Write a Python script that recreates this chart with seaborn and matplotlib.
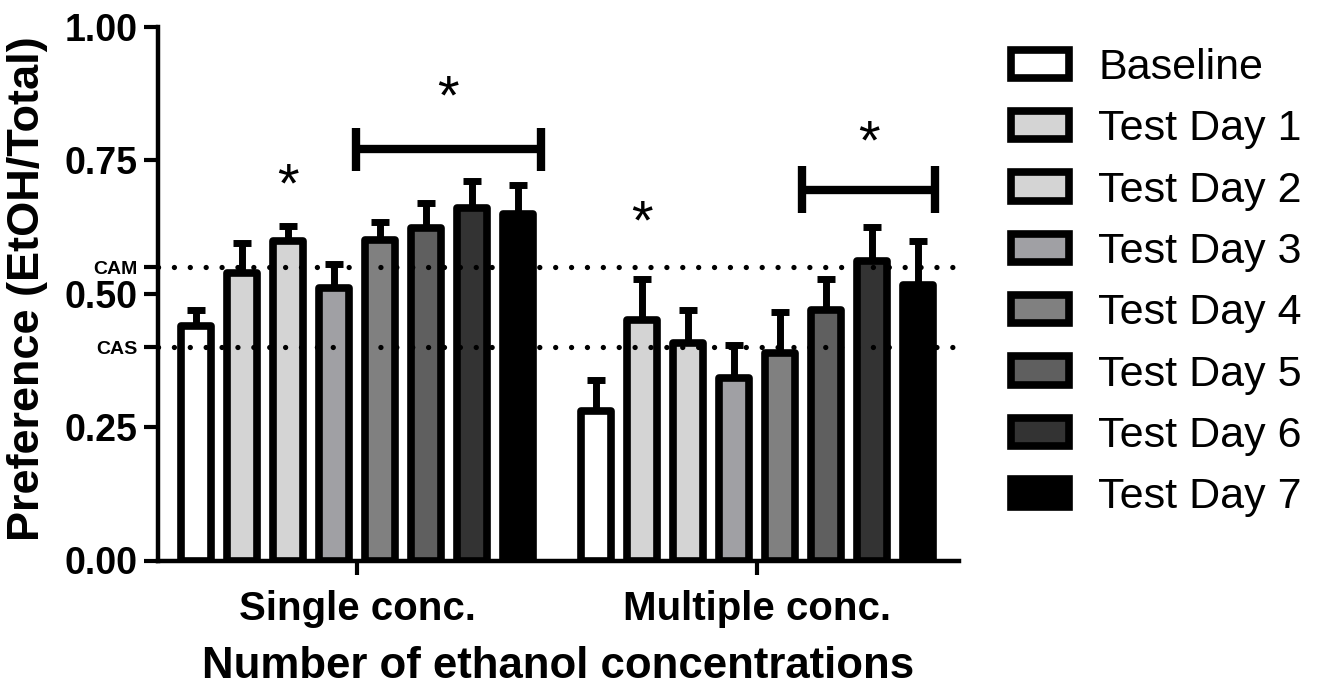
import matplotlib
matplotlib.use("Agg")
import matplotlib.pyplot as plt
import matplotlib.patches as mpatches
import numpy as np
import pandas as pd
import seaborn as sns

# ---- data -------------------------------------------------------------
groups = ["Single conc.", "Multiple conc."]
days = ["Baseline", "Test Day 1", "Test Day 2", "Test Day 3",
        "Test Day 4", "Test Day 5", "Test Day 6", "Test Day 7"]
single_mean = [0.44, 0.539, 0.599, 0.511, 0.601, 0.623, 0.661, 0.649]
single_sem = [0.030, 0.057, 0.028, 0.044, 0.034, 0.048, 0.051, 0.055]
multi_mean = [0.280, 0.451, 0.408, 0.342, 0.389, 0.469, 0.561, 0.517]
multi_sem = [0.058, 0.077, 0.061, 0.062, 0.076, 0.059, 0.064, 0.081]
colors = ["#ffffff", "#d4d4d4", "#d4d4d4", "#a0a0a4",
          "#808080", "#5f5f5f", "#333333", "#000000"]
cam_level = 0.55
cas_level = 0.40
y_ticks = [0.0, 0.25, 0.40, 0.50, 0.55, 0.75, 1.0]
y_ticklabels = ["0.00", "0.25", "CAS", "0.50", "CAM", "0.75", "1.00"]

df = pd.DataFrame({
    "group": np.repeat(groups, len(days)),
    "day": days * len(groups),
    "mean": single_mean + multi_mean,
    "err": single_sem + multi_sem,
})

sns.set_style("ticks")
plt.rcParams["font.family"] = ["Liberation Sans", "DejaVu Sans"]
plt.rcParams.update({"text.color": "black", "axes.labelcolor": "black",
                     "xtick.color": "black", "ytick.color": "black"})

fig = plt.figure(figsize=(13.24, 6.85), dpi=100)
ax = fig.add_axes([158 / 1324, 1 - 560.5 / 685, (959 - 158) / 1324, (560.5 - 27) / 685])

sns.barplot(data=df, x="group", y="mean", hue="day", order=groups,
            hue_order=days, palette=colors, width=0.922, gap=0.35,
            edgecolor="black", linewidth=5.5, errorbar=None, ax=ax,
            legend=False, zorder=3)

for p in ax.patches:
    p.set_joinstyle("round")

# upward SEM bars, centred on each bar
bar_containers = list(ax.containers)
centers = {}
for hue_idx, cont in enumerate(bar_containers):
    for grp_idx, bar in enumerate(cont.patches):
        cx = bar.get_x() + bar.get_width() / 2
        centers[(grp_idx, hue_idx)] = cx
        row = df[(df["group"] == groups[grp_idx]) & (df["day"] == days[hue_idx])].iloc[0]
        ax.errorbar(cx, row["mean"], yerr=[[0], [row["err"]]], fmt="none",
                    ecolor="black", elinewidth=5, capsize=6.8, capthick=5,
                    zorder=2)

# reference levels
for lvl in (cam_level, cas_level):
    ax.axhline(lvl, color="black", lw=3.8, linestyle=(0, (0.01, 3.0)),
               dash_capstyle="round", zorder=4)

ax.set_xlim(-0.4988, 1.5063)
ax.set_ylim(0, 1.0)
ax.set_yticks(y_ticks)
ax.set_yticklabels(y_ticklabels)
for lab in ax.get_yticklabels():
    lab.set_fontweight("bold")
    if lab.get_text() in ("CAM", "CAS"):
        lab.set_fontsize(14)
    else:
        lab.set_fontsize(27)
for lab in ax.get_xticklabels():
    lab.set_fontweight("bold")
    lab.set_fontsize(29)

ax.tick_params(axis="y", length=10, width=3, pad=5, color="black")
ax.tick_params(axis="x", length=10, width=3, pad=11, color="black")
for s in ("top", "right"):
    ax.spines[s].set_visible(False)
for s in ("left", "bottom"):
    ax.spines[s].set_linewidth(3.2)
    ax.spines[s].set_color("black")

ax.set_xlabel("Number of ethanol concentrations", fontsize=31.5,
              fontweight="bold", labelpad=13)
ax.set_ylabel("Preference (EtOH/Total)", fontsize=32.5, fontweight="bold")
ax.yaxis.set_label_coords(-0.137, 0.51)

# significance marks
def bracket(g, h0, h1, y, dl, dr, half):
    x0 = centers[(g, h0)] - dl
    x1 = centers[(g, h1)] + dr
    ax.plot([x0, x1], [y, y], color="black", lw=6, solid_capstyle="butt", zorder=5)
    for xx in (x0, x1):
        ax.plot([xx, xx], [y - half, y + half], color="black", lw=6,
                solid_capstyle="butt", zorder=5)
    return (x0 + x1) / 2

def star(x, y):
    ax.text(x, y, "*", fontsize=40, ha="center", va="center", zorder=6)

star(centers[(0, 2)], 0.70)
mid = bracket(0, 4, 7, 0.771, 0.062, 0.056, 0.04)
star(mid, 0.865)
star(centers[(1, 1)], 0.63)
mid = bracket(1, 5, 7, 0.695, 0.060, 0.044, 0.044)
star(mid, 0.78)

# legend
handles = [mpatches.Patch(facecolor=c, edgecolor="black", linewidth=5.5,
                          joinstyle="round") for c in colors]
leg = fig.legend(handles, days, loc="upper left",
                 bbox_to_anchor=(1011 / 1324, 1 - 48 / 685),
                 frameon=False, fontsize=31, handlelength=1.35,
                 handleheight=0.63, handletextpad=0.68, labelspacing=0.495,
                 borderpad=0, borderaxespad=0)

fig.savefig("out.png", dpi=100)
